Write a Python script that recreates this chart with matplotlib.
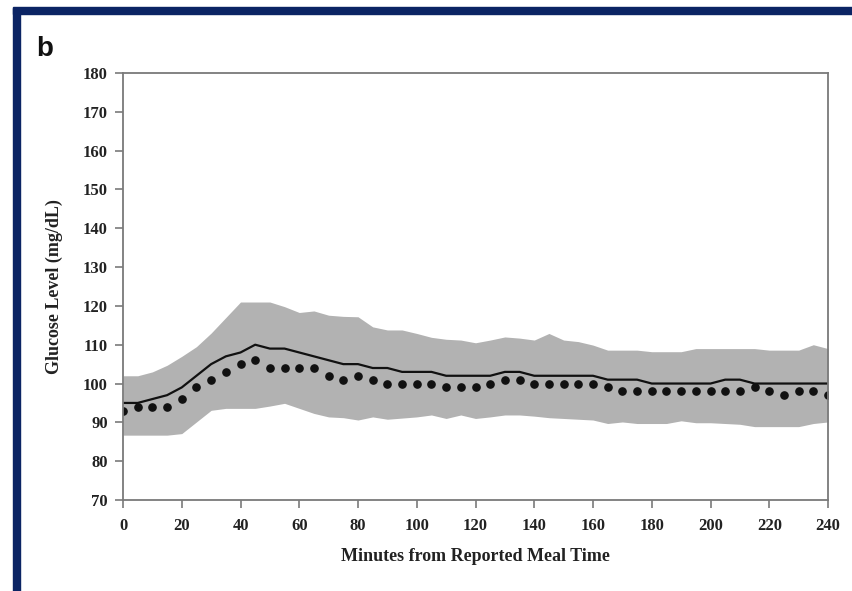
import matplotlib.pyplot as plt
from matplotlib.patches import Rectangle

# Minutes after the reported meal, 5-minute steps
minutes = list(range(0, 245, 5))

# Mean glucose (solid line)
mean_glucose = [95, 95, 96, 97, 99, 102, 105, 107, 108, 110,
                109, 109, 108, 107, 106, 105, 105, 104, 104, 103,
                103, 103, 102, 102, 102, 102, 103, 103, 102, 102,
                102, 102, 102, 101, 101, 101, 100, 100, 100, 100,
                100, 101, 101, 100, 100, 100, 100, 100, 100]

# Median glucose (dots)
median_glucose = [93, 94, 94, 94, 96, 99, 101, 103, 105, 106,
                  104, 104, 104, 104, 102, 101, 102, 101, 100, 100,
                  100, 100, 99, 99, 99, 100, 101, 101, 100, 100,
                  100, 100, 100, 99, 98, 98, 98, 98, 98, 98,
                  98, 98, 98, 99, 98, 97, 98, 98, 97]

# Interquartile band
upper_band = [102, 102, 103, 104.7, 107, 109.5, 113, 117, 121, 121,
              121, 119.8, 118.3, 118.7, 117.6, 117.3, 117.2, 114.6, 113.8, 113.8,
              112.9, 111.9, 111.4, 111.2, 110.5, 111.2, 112, 111.7, 111.2, 112.9,
              111.2, 110.8, 109.9, 108.6, 108.6, 108.6, 108.2, 108.2, 108.2, 109,
              109, 109, 109, 109, 108.6, 108.6, 108.6, 110, 109]
lower_band = [86.7, 86.7, 86.7, 86.7, 87.1, 90.1, 93.1, 93.6, 93.6, 93.6,
              94.2, 94.9, 93.6, 92.3, 91.4, 91.2, 90.6, 91.4, 90.8, 91.1,
              91.4, 91.9, 91, 91.9, 91, 91.4, 91.9, 91.9, 91.6, 91.2,
              91, 90.8, 90.6, 89.7, 90.1, 89.7, 89.7, 89.7, 90.4, 89.9,
              89.9, 89.7, 89.5, 88.9, 88.9, 88.9, 88.9, 89.7, 90.1]

x_ticks = list(range(0, 241, 20))
y_ticks = list(range(70, 181, 10))

plt.rcParams['font.family'] = ['Liberation Serif', 'DejaVu Serif']
plt.rcParams['font.weight'] = 'bold'

fig = plt.figure(figsize=(8.53, 5.91), dpi=100)
ax = fig.add_axes([0.1442, 0.154, 0.8265, 0.7225])

ax.fill_between(minutes, lower_band, upper_band, color='#b2b2b2', linewidth=0)
ax.plot(minutes, mean_glucose, color='#111111', linewidth=1.6)
ax.plot(minutes, median_glucose, linestyle='none', marker='o', markersize=5.2,
        color='#111111')

ax.set_xlim(0, 240)
ax.set_ylim(70, 180)
ax.set_xticks(x_ticks)
ax.set_yticks(y_ticks)
ax.tick_params(axis='both', direction='out', length=6, width=1.2,
               color='#7a7a7a', labelsize=12, labelcolor='#222222')
ax.tick_params(axis='x', pad=7)
ax.tick_params(axis='y', pad=5)
for side in ax.spines.values():
    side.set_color('#7a7a7a')
    side.set_linewidth(1.3)

ax.set_xlabel('Minutes from Reported Meal Time', fontsize=13, fontweight='bold',
              color='#222222', labelpad=10)
ax.set_ylabel('Glucose Level (mg/dL)', fontsize=13, fontweight='bold',
              color='#222222', labelpad=14)

fig.text(0.042, 0.905, 'b', fontsize=20, fontweight='bold',
         family=['Liberation Sans', 'DejaVu Sans'], color='#111111')

# navy frame strips on the left and top
fig.patches.append(Rectangle((0.0155, 0.0), 0.0075, 0.9865,
                             transform=fig.transFigure, color='#0b2464'))
fig.patches.append(Rectangle((0.0155, 0.9765), 0.9845, 0.011,
                             transform=fig.transFigure, color='#0b2464'))

fig.savefig('out.png', dpi=100)
